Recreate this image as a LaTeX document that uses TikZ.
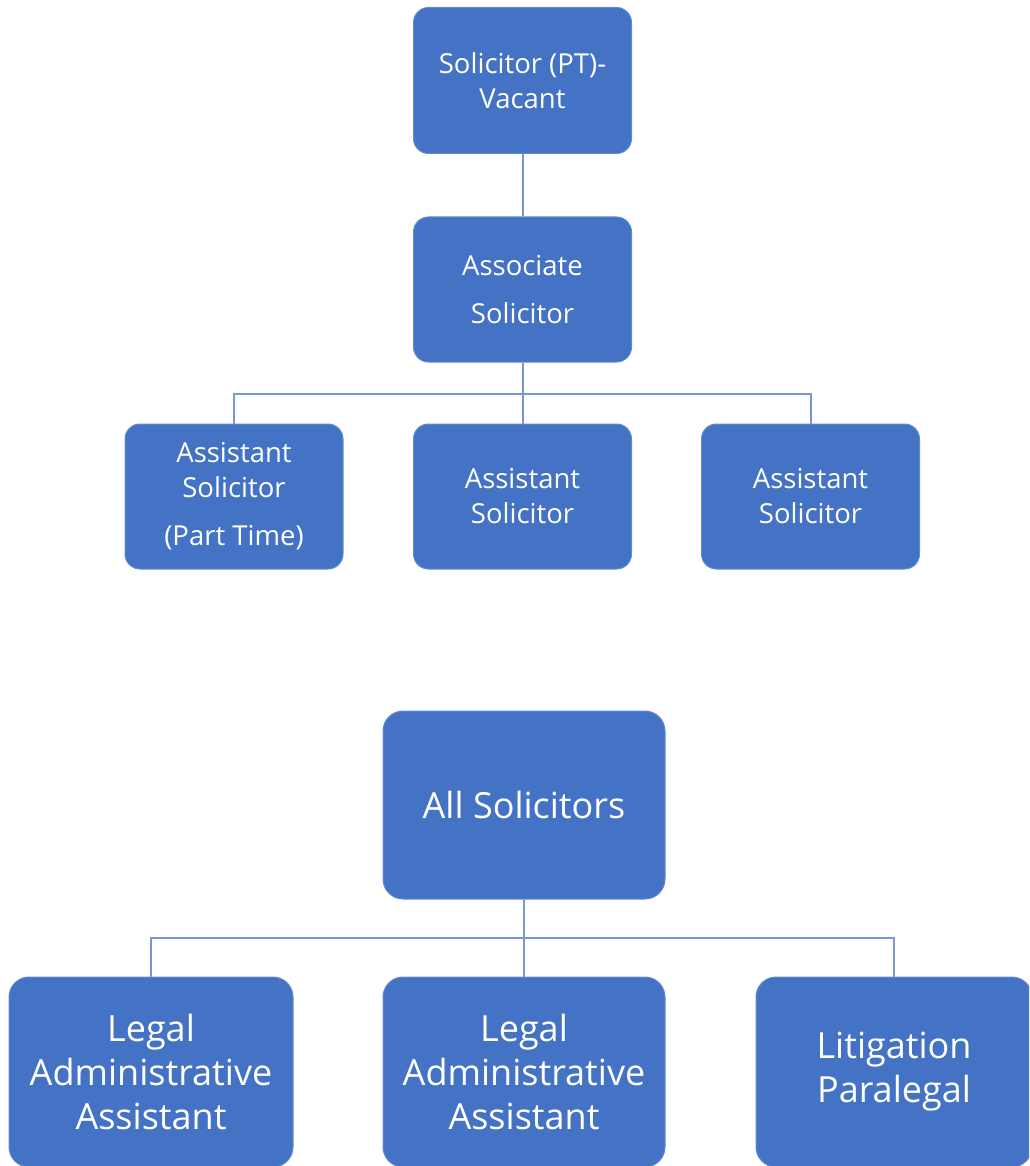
\documentclass[tikz,border=0pt]{standalone}
\usepackage{fontspec}
\setmainfont{Open Sans}
\definecolor{officeblue}{RGB}{68,114,196}
\definecolor{edgeblue}{RGB}{98,138,208}
\definecolor{linkblue}{RGB}{122,152,206}
\tikzset{
  box/.style={rectangle, rounded corners=15pt, fill=officeblue, draw=edgeblue, line width=1pt,
    text=white, align=center, inner sep=0pt, font=\fontsize{27.5}{35}\selectfont},
  bigbox/.style={box, rounded corners=20pt, font=\fontsize{36}{44}\selectfont},
  link/.style={draw=linkblue, line width=2pt}
}
\begin{document}
\begin{tikzpicture}[x=1pt,y=-1pt]
\useasboundingbox (0,0) rectangle (1029,1166);
\clip (0,0) rectangle (1029,1166);
% upper chart
\node[box, minimum width=218pt, minimum height=146pt] (vacant) at (522.5,80.5) {Solicitor (PT)-\\Vacant};
\node[box, minimum width=218pt, minimum height=145pt] (assoc) at (522.5,289.5) {Associate\\[13pt]Solicitor};
\node[box, minimum width=218pt, minimum height=145pt] (asstA) at (234,496.5) {Assistant\\Solicitor\\[13pt](Part Time)};
\node[box, minimum width=218pt, minimum height=145pt] (asstB) at (522.5,496.5) {Assistant\\Solicitor};
\node[box, minimum width=218pt, minimum height=145pt] (asstC) at (810.5,496.5) {Assistant\\Solicitor};
\draw[link] (vacant) -- (assoc);
\draw[link] (assoc) -- (asstB);
\draw[link] (asstA.north) -- ++(0,-30) -| (asstC.north);
% lower chart
\node[bigbox, minimum width=282pt, minimum height=188pt] (allsol) at (524,805) {All Solicitors};
\node[bigbox, minimum width=284pt, minimum height=190pt] (legalA) at (151,1072) {Legal\\Administrative\\Assistant};
\node[bigbox, minimum width=282pt, minimum height=190pt] (legalB) at (524,1072) {Legal\\Administrative\\Assistant};
\node[bigbox, minimum width=276pt, minimum height=190pt] (paralegal) at (894,1072) {Litigation\\Paralegal};
\draw[link] (allsol) -- (legalB);
\draw[link] (legalA.north) -- ++(0,-39) -| (paralegal.north);
\end{tikzpicture}
\end{document}
